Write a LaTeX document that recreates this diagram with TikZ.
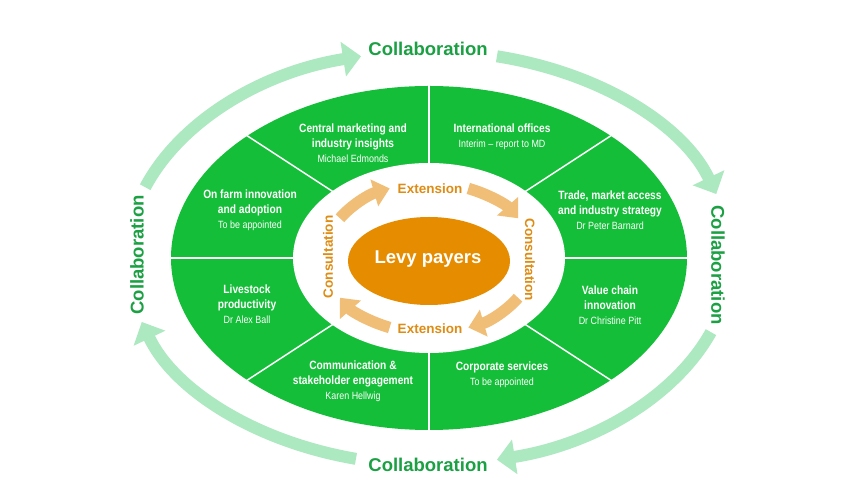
\documentclass[tikz,border=0pt]{standalone}
\usepackage{fontspec}
\setmainfont{Liberation Sans}
\newfontfamily\condf[FakeStretch=0.85]{Liberation Sans}
\usetikzlibrary{arrows.meta}
\definecolor{seggreen}{RGB}{20,190,56}
\definecolor{txtgreen}{RGB}{28,160,68}
\definecolor{lightgreen}{RGB}{172,232,192}
\definecolor{levyorange}{RGB}{230,140,0}
\definecolor{lightorange}{RGB}{240,190,118}
\definecolor{txtorange}{RGB}{222,140,20}
\newcommand{\personname}[1]{{\mdseries\fontsize{10.5}{15}\selectfont #1}}
\begin{document}
\begin{tikzpicture}[x=1pt,y=1pt,
  seglabel/.style={text=white, align=center, font=\condf\bfseries\fontsize{12}{15}\selectfont},
  collab/.style={text=txtgreen, font=\bfseries\fontsize{18.5}{22}\selectfont},
  ringlabel/.style={text=txtorange, font=\bfseries\fontsize{13.5}{16}\selectfont},
  outerarrow/.style={draw=lightgreen, line width=12pt, -{Triangle[width=34pt,length=18pt]}},
  innerarrow/.style={draw=lightorange, line width=11.5pt, -{Triangle[width=27pt,length=16pt]}},
  divider/.style={draw=white, line width=1.5pt}
]
\useasboundingbox (0,0) rectangle (860,500);
\fill[white] (0,0) rectangle (860,500);

% segments ring
\fill[seggreen] (429,242) ellipse [x radius=258, y radius=172];
\fill[white] (429,242) ellipse [x radius=136, y radius=95];
\foreach \a in {0,45,...,315}
  \draw[divider, shift={(429,242)}] (\a:130 and 90) -- (\a:262 and 176);

% centre
\fill[levyorange] (429,239) ellipse [x radius=81, y radius=44];
\node[text=white, font=\bfseries\fontsize{18.5}{22}\selectfont] (levy) at (428,241) {Levy payers};

% inner arrows
\draw[innerarrow, shift={(429,242)}] (148:105 and 75) arc[start angle=148, end angle=112, x radius=105, y radius=75];
\draw[innerarrow, shift={(429,242)}] (68:105 and 75) arc[start angle=68, end angle=32, x radius=105, y radius=75];
\draw[innerarrow, shift={(429,242)}] (-32:105 and 75) arc[start angle=-32, end angle=-68, x radius=105, y radius=75];
\draw[innerarrow, shift={(429,242)}] (248:105 and 75) arc[start angle=248, end angle=212, x radius=105, y radius=75];

\node[ringlabel] (extT) at (430,311) {Extension};
\node[ringlabel] (extB) at (430,171) {Extension};
\node[ringlabel, rotate=90] (conL) at (328,243) {Consultation};
\node[ringlabel, rotate=-90] (conR) at (530,240) {Consultation};

% outer arrows
\draw[outerarrow, shift={(429,242)}] (160:302 and 207) arc[start angle=160, end angle=103, x radius=302, y radius=207];
\draw[outerarrow, shift={(429,242)}] (77:302 and 207) arc[start angle=77, end angle=18, x radius=302, y radius=207];
\draw[outerarrow, shift={(429,242)}] (-21:302 and 207) arc[start angle=-21, end angle=-77, x radius=302, y radius=207];
\draw[outerarrow, shift={(429,242)}] (256:302 and 207) arc[start angle=256, end angle=198, x radius=302, y radius=207];

\node[collab] (colT) at (428,451) {Collaboration};
\node[collab] (colB) at (428,35) {Collaboration};
\node[collab, rotate=90] (colL) at (137,245) {Collaboration};
\node[collab, rotate=-90] (colR) at (718,235) {Collaboration};

% segment labels
\node[seglabel] (central) at (353,357) {Central marketing and\\industry insights\\\personname{Michael Edmonds}};
\node[seglabel] (intl) at (502,363.5) {International offices\\\personname{Interim – report to MD}};
\node[seglabel] (onfarm) at (250,290) {On farm innovation\\and adoption\\\personname{To be appointed}};
\node[seglabel] (trade) at (610,290) {Trade, market access\\and industry strategy\\\personname{Dr Peter Barnard}};
\node[seglabel] (livestock) at (247,196) {Livestock\\productivity\\\personname{Dr Alex Ball}};
\node[seglabel] (value) at (610,195) {Value chain\\innovation\\\personname{Dr Christine Pitt}};
\node[seglabel] (comm) at (353,119) {Communication \&\\stakeholder engagement\\\personname{Karen Hellwig}};
\node[seglabel] (corp) at (502,125.5) {Corporate services\\\personname{To be appointed}};
\end{tikzpicture}
\end{document}
